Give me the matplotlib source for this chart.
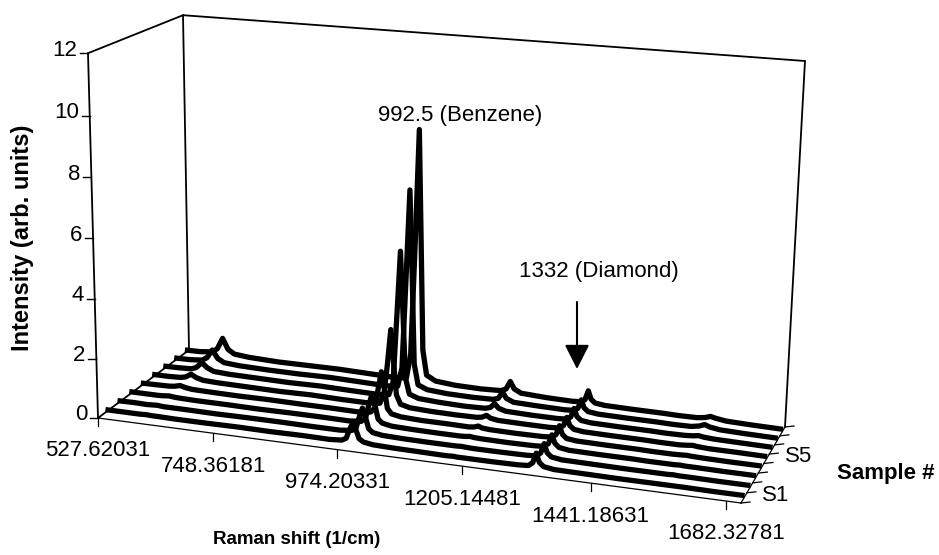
import numpy as np
import matplotlib
matplotlib.use("Agg")
import matplotlib.pyplot as plt
from matplotlib.transforms import Transform

plt.rcParams['font.family'] = ['Liberation Sans', 'DejaVu Sans']

raman = [528,560,585,595,606,617,630,660,720,780,840,900,950,972,980,986,992,998,1004,1012,1030,
         1070,1120,1160,1170,1178,1186,1200,1250,1300,1318,1326,1332,1338,1346,1365,1420,1480,1510,
         1545,1560,1570,1580,1600,1650,1707]
S1 = [.10,.10,.10,.10,.11,.10,.10,.09,.09,.10,.09,.10,.09,.12,.20,.50,.72,.52,.24,.15,.10,.08,.07,.06,.06,.07,.06,.06,.06,.07,.09,.20,.52,.24,.12,.07,.06,.05,.05,.05,.05,.05,.05,.05,.04,.04]
S2 = [.10,.11,.10,.11,.12,.10,.10,.10,.09,.10,.10,.09,.09,.13,.22,.60,.92,.62,.26,.15,.10,.08,.07,.07,.07,.08,.07,.06,.06,.07,.09,.20,.52,.24,.12,.07,.06,.05,.05,.05,.05,.06,.05,.05,.04,.04]
S3 = [.11,.11,.11,.12,.14,.12,.11,.10,.10,.09,.10,.10,.09,.13,.25,.70,1.08,.72,.28,.16,.10,.08,.07,.07,.08,.10,.08,.07,.06,.07,.09,.20,.50,.24,.12,.07,.06,.06,.05,.05,.05,.06,.05,.05,.04,.04]
S4 = [.11,.12,.13,.15,.20,.15,.12,.11,.10,.11,.10,.10,.09,.14,.30,.95,1.55,1.00,.34,.17,.11,.08,.08,.07,.09,.14,.09,.07,.06,.07,.09,.19,.50,.23,.11,.07,.06,.06,.05,.05,.06,.07,.06,.05,.04,.04]
S5 = [.12,.12,.14,.18,.30,.20,.14,.12,.11,.10,.12,.10,.10,.14,.50,1.50,2.70,1.60,.50,.20,.12,.09,.08,.09,.12,.20,.12,.08,.07,.07,.09,.19,.48,.22,.11,.07,.06,.06,.05,.05,.07,.09,.07,.05,.05,.04]
S6 = [.12,.13,.15,.22,.42,.26,.16,.13,.12,.11,.13,.11,.10,.14,.60,2.80,5.10,3.00,.80,.25,.14,.10,.08,.10,.15,.30,.16,.09,.07,.07,.09,.18,.48,.22,.11,.07,.06,.06,.05,.06,.08,.11,.08,.06,.05,.04]
S7 = [.12,.13,.17,.28,.58,.30,.18,.14,.12,.12,.14,.12,.10,.14,.80,3.80,6.95,4.10,1.00,.28,.15,.10,.09,.11,.17,.40,.20,.10,.08,.07,.09,.18,.48,.22,.11,.07,.06,.06,.05,.06,.11,.18,.12,.07,.05,.04]
S8 = [.12,.13,.18,.32,.72,.34,.20,.15,.12,.13,.14,.12,.10,.14,1.00,4.60,8.80,5.00,1.20,.33,.16,.10,.09,.12,.20,.48,.24,.12,.08,.07,.09,.18,.50,.22,.11,.07,.06,.06,.05,.06,.10,.16,.12,.07,.05,.04]
series = [S1, S2, S3, S4, S5, S6, S7, S8]

x_tick_values = [527.62031, 748.36181, 974.20331, 1205.14481, 1441.18631, 1682.32781]
x_tick_labels = ['527.62031', '748.36181', '974.20331', '1205.14481', '1441.18631', '1682.32781']
y_ticks = [0, 2, 4, 6, 8, 10, 12]
sample_labels = {0: 'S1', 4: 'S5'}
axis_end = 1707.0
n_samples = 8


def homography(src, dst):
    A, b = [], []
    for (u, v), (x, y) in zip(src, dst):
        A.append([u, v, 1, 0, 0, 0, -u * x, -v * x]); b.append(x)
        A.append([0, 0, 0, u, v, 1, -u * y, -v * y]); b.append(y)
    return np.append(np.linalg.solve(np.array(A, float), np.array(b, float)), 1).reshape(3, 3)


H = homography([(0, 0), (1, 0), (1, 1), (0, 1)], [(98, 418), (741, 503), (785, 427), (189, 350)])
rise = {'x': [-10 / 12, 19 / 12, 20 / 12, -6 / 12], 'y': [30.4, 33.0, 30.5, 27.9]}
u_stops = np.array([0, .183, .3775, .572, .7705, .977, 1.0])
r_stops = np.array(x_tick_values + [axis_end])


class Waterfall(Transform):
    """Raman shift and intensity at a given sample depth -> pixels of the figure."""
    input_dims = 2
    output_dims = 2
    is_separable = False

    def __init__(self, sample_depth):
        super().__init__()
        self.sample_depth = sample_depth

    def transform_non_affine(self, values):
        values = np.asarray(values, float)
        u = np.interp(values[:, 0], r_stops, u_stops)
        z = values[:, 1]
        z = z * (29.5 + 0.075 * z) / 30.4
        v = self.sample_depth
        p = H @ np.vstack([u, np.full_like(u, v), np.ones_like(u)])
        px, py = p[0] / p[2], p[1] / p[2]
        w = [(1 - u) * (1 - v), u * (1 - v), u * v, (1 - u) * v]
        rx = sum(a * b for a, b in zip(w, rise['x']))
        ry = sum(a * b for a, b in zip(w, rise['y']))
        return np.column_stack([px + rx * z, py - ry * z])


fig = plt.figure(figsize=(9.39, 5.55), dpi=100)
ax = fig.add_axes([0, 0, 1, 1])
ax.set_xlim(0, 939)
ax.set_ylim(555, 0)
ax.set_autoscale_on(False)
ax.axis('off')

ink = '#000000'
frame = dict(color=ink, lw=1.3, solid_capstyle='round', zorder=1)


def pt(r, z, d):
    return Waterfall(d).transform(np.array([[r, z]], float))[0]


def seg(a, b, **kw):
    ax.plot([a[0], b[0]], [a[1], b[1]], **kw)


r0, r1 = x_tick_values[0], axis_end
seg(pt(r0, 0, 0), pt(r0, 12, 0), **frame)
seg(pt(r0, 0, 1), pt(r0, 12, 1), **frame)
seg(pt(r1, 0, 1), pt(r1, 12, 1), **frame)
seg(pt(r0, 12, 0), pt(r0, 12, 1), **frame)
seg(pt(r0, 12, 1), pt(r1, 12, 1), **frame)
seg(pt(r0, 0, 0), pt(r0, 0, 1), **frame)
seg(pt(r0, 0, 0), pt(r1, 0, 0), color=ink, lw=0.9, zorder=1)
seg(pt(r1, 0, 0), pt(r1, 0, 1), color=ink, lw=0.9, zorder=1)

for val in y_ticks:
    p = pt(r0, val, 0)
    seg(p, (p[0] - 8, p[1]), color=ink, lw=1.0)
    ax.text(p[0] - 11, p[1] - 3, str(val), ha='right', va='center', fontsize=16)

for val, lab in zip(x_tick_values, x_tick_labels):
    p = pt(val, 0, 0)
    seg(p, (p[0], p[1] + 8), color=ink, lw=0.9)
    ax.text(p[0], p[1] + 33, lab, ha='center', va='center', fontsize=16)

for k in range(n_samples + 1):
    p = pt(r1, 0, k / n_samples)
    seg(p, (p[0] + 9, p[1] - 1), color=ink, lw=0.9)
for k, lab in sample_labels.items():
    p = pt(r1, 0, (k + 0.5) / n_samples)
    ax.text(p[0] + 32, p[1] - 2, lab, ha='center', va='center', fontsize=16)

for i, vals in enumerate(series):
    ax.plot(raman, vals, color=ink, lw=3.8, solid_joinstyle='round', solid_capstyle='butt',
            transform=Waterfall((i + 0.6) / n_samples) + ax.transData, zorder=3 + (n_samples - i))

ax.text(460, 116, '992.5 (Benzene)', ha='center', va='center', fontsize=16)
ax.text(599, 271, '1332 (Diamond)', ha='center', va='center', fontsize=16)
ax.annotate('', xy=(577, 369), xytext=(577, 302),
            arrowprops=dict(arrowstyle='-|>,head_length=0.75,head_width=0.38', color=ink, lw=1.5,
                            shrinkA=0, shrinkB=0, mutation_scale=20))
ax.text(297, 540, 'Raman shift (1/cm)', ha='center', va='center', fontsize=13.5, fontweight='bold')
ax.text(886, 473, 'Sample #', ha='center', va='center', fontsize=16, fontweight='bold')
ax.text(23, 238, 'Intensity (arb. units)', ha='center', va='center', rotation=90,
        fontsize=17, fontweight='bold')

fig.savefig('out.png', dpi=100)
